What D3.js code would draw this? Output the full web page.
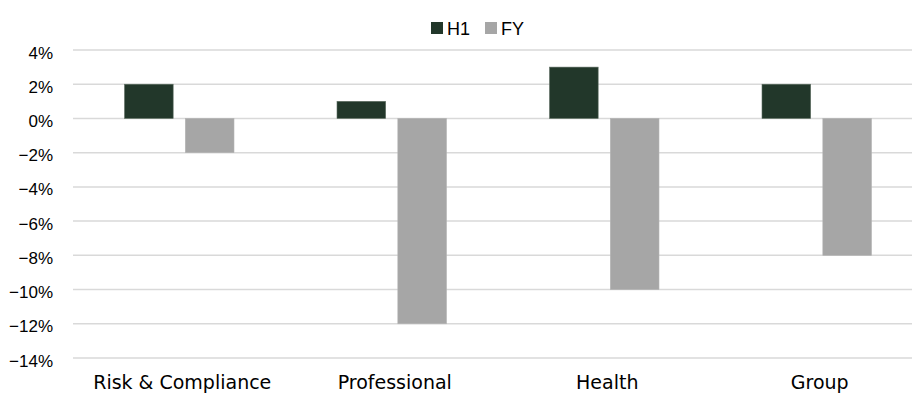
<!DOCTYPE html>
<html>
<head>
<meta charset="utf-8">
<script src="https://cdn.jsdelivr.net/npm/d3@7"></script>
<style>
  html, body { margin: 0; padding: 0; background: #ffffff; }
  svg { display: block; }
</style>
</head>
<body>
<div id="chart"></div>
<script>
// Segment growth by half-year and full year
const categories = ["Risk & Compliance", "Professional", "Health", "Group"];
const seriesNames = ["H1", "FY"];
const h1Values = [0.02, 0.01, 0.03, 0.02];
const fyValues = [-0.02, -0.12, -0.10, -0.08];
const yTicks = [0.04, 0.02, 0, -0.02, -0.04, -0.06, -0.08, -0.10, -0.12, -0.14];
const colors = ["#22372a", "#a6a6a6"];

const width = 912, height = 395;
const margin = { top: 50, right: -11, bottom: 37, left: 73 };

const svg = d3.select("#chart").append("svg")
  .attr("width", width).attr("height", height);

const x0 = d3.scaleBand()
  .domain(categories)
  .range([margin.left, width - margin.right])
  .padding(0);

const x1 = d3.scaleBand()
  .domain(seriesNames)
  .range([-54.75, 54.75])
  .paddingInner(0.2);

const y = d3.scaleLinear()
  .domain([-0.14, 0.04])
  .range([height - margin.bottom, margin.top]);

// Gridlines
svg.append("g")
  .selectAll("line")
  .data(yTicks)
  .join("line")
  .attr("x1", margin.left)
  .attr("x2", width)
  .attr("y1", d => y(d))
  .attr("y2", d => y(d))
  .attr("stroke", "#d9d9d9")
  .attr("stroke-width", 1.5);

// Y axis labels
const yAxis = d3.axisLeft(y)
  .tickValues(yTicks)
  .tickFormat(d => d3.format(".0f")(d * 100) + "%")
  .tickSize(0)
  .tickPadding(0);

svg.append("g")
  .attr("transform", `translate(${margin.left - 20},0)`)
  .call(yAxis)
  .call(g => g.select(".domain").remove())
  .call(g => g.selectAll("text")
    .attr("dy", 0)
    .attr("y", 8)
    .attr("font-family", "'Liberation Sans', Arial, sans-serif")
    .attr("font-size", 17)
    .attr("fill", "#000"));

// Bars
const rows = categories.map((c, i) => ({ cat: c, values: [h1Values[i], fyValues[i]] }));

const groups = svg.append("g")
  .selectAll("g")
  .data(rows)
  .join("g")
  .attr("transform", d => `translate(${x0(d.cat) + x0.bandwidth() / 2},0)`);

groups.selectAll("rect")
  .data(d => d.values.map((v, j) => ({ key: seriesNames[j], v, j })))
  .join("rect")
  .attr("x", d => x1(d.key))
  .attr("width", x1.bandwidth())
  .attr("y", d => y(Math.max(0, d.v)))
  .attr("height", d => Math.abs(y(d.v) - y(0)))
  .attr("fill", d => colors[d.j])
  .attr("stroke", d => d.j === 0 ? "#5f6f63" : "#b4b4b4")
  .attr("stroke-width", 0.6);

// Category labels
const xAxis = d3.axisBottom(x0).tickSize(0).tickPadding(0);
svg.append("g")
  .attr("transform", `translate(3,389)`)
  .call(xAxis)
  .call(g => g.select(".domain").remove())
  .call(g => g.selectAll("text")
    .attr("dy", 0)
    .attr("y", 0)
    .attr("font-family", "'DejaVu Sans', sans-serif")
    .attr("font-size", 19)
    .attr("fill", "#000"));

// Legend
const legendItems = [
  { name: "H1", x: 431 },
  { name: "FY", x: 485 }
];
const legend = svg.append("g")
  .selectAll("g")
  .data(legendItems)
  .join("g")
  .attr("transform", d => `translate(${d.x},22)`);
legend.append("rect")
  .attr("width", 12).attr("height", 12)
  .attr("fill", (d, i) => colors[i]);
legend.append("text")
  .attr("x", 16).attr("y", 13)
  .attr("font-family", "'Liberation Sans', Arial, sans-serif")
  .attr("font-size", 18)
  .attr("fill", "#000")
  .text(d => d.name);
</script>
</body>
</html>
